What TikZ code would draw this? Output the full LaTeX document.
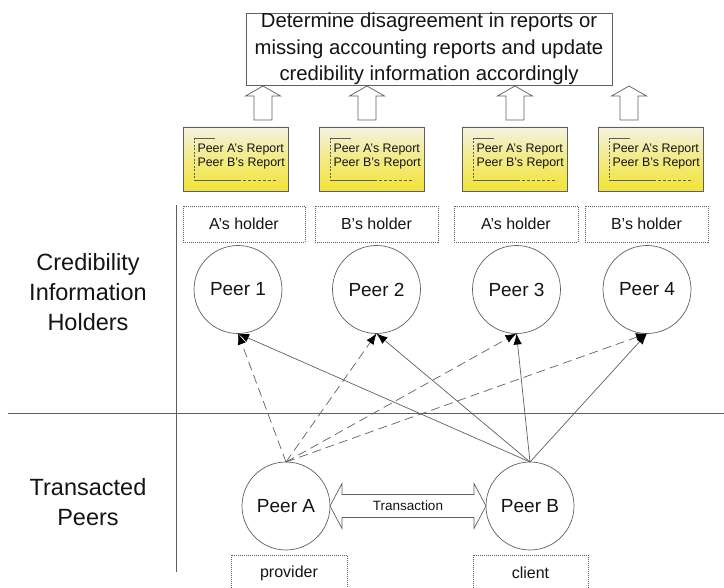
\documentclass[tikz,border=0pt]{standalone}
\usepackage{fontspec}
\setmainfont{Liberation Sans}
\usetikzlibrary{arrows.meta,calc}
\definecolor{ln}{RGB}{95,95,95}
\definecolor{ytop}{RGB}{244,242,228}
\definecolor{ybot}{RGB}{242,228,55}
\begin{document}
\begin{tikzpicture}[x=1pt,y=-1pt,
  every node/.style={inner sep=0pt, outer sep=0pt, text=black!92},
  topbox/.style={draw=ln, line width=0.7pt, minimum width=366pt, minimum height=72pt, align=center, font=\fontsize{20.3}{26.5}\selectfont},
  report/.style={draw=ln, line width=0.8pt, minimum width=105pt, minimum height=64pt, top color=ytop, bottom color=ybot, middle color=ybot!55!ytop},
  rtext/.style={align=left, font=\fontsize{12.4}{14}\selectfont},
  holder/.style={draw=ln, line width=0.6pt, dash pattern=on 1pt off 1pt, minimum height=36pt, font=\fontsize{16}{19}\selectfont},
  peer/.style={draw=ln, line width=0.7pt, circle, minimum size=88pt, font=\fontsize{19}{22}\selectfont},
  side/.style={align=center, font=\fontsize{23.5}{30}\selectfont},
  link/.style={draw=ln, line width=0.7pt, -{Latex[length=11pt,width=8.5pt,fill=black,color=black]}},
  dlink/.style={link, dash pattern=on 9pt off 5pt},
  blockarrow/.style={draw=ln, line width=0.7pt, fill=white}
]
\useasboundingbox (0,0) rectangle (724,588);

% top box
\node[topbox] (top) at (429,49) {Determine disagreement in reports or\\missing accounting reports and update\\credibility information accordingly};

% up block arrows
\foreach \cx in {263,367,515,629} {
  \draw[blockarrow] (\cx-9,120) -- (\cx-9,96) -- (\cx-17.5,96) -- (\cx,86) -- (\cx+17.5,96) -- (\cx+9,96) -- (\cx+9,120) -- cycle;
}

% report boxes
\node[report] (R1) at (235.5,159) {};
\node[report] (R2) at (371.5,159) {};
\node[report] (R3) at (514.5,159) {};
\node[report] (R4) at (650.5,159) {};
\foreach \r in {R1,R2,R3,R4} {
  \node[rtext, anchor=west] (\r t) at ($(\r.west)+(14.5,-2)$) {Peer A’s Report\\Peer B’s Report};
  \draw[ln, line width=0.6pt] ($(\r.north west)+(11,11)$) -- ++(21,0);
  \draw[ln, line width=0.6pt, dash pattern=on 2pt off 1.5pt] ($(\r.north west)+(11,11)$) -- ++(0,42);
  \draw[ln, line width=0.6pt] ($(\r.north west)+(11,53)$) -- ++(44,0);
  \draw[ln, line width=0.6pt, dash pattern=on 3pt off 2pt] ($(\r.north west)+(55,53)$) -- ++(40,0);
}

% holders
\node[holder, minimum width=122pt] (H1) at (244,224) {A’s holder};
\node[holder, minimum width=123pt] (H2) at (376.5,224) {B’s holder};
\node[holder, minimum width=124pt] (H3) at (516,224) {A’s holder};
\node[holder, minimum width=123pt] (H4) at (646.5,224) {B’s holder};

% peers
\node[peer] (P1) at (238,289.5) {Peer 1};
\node[peer] (P2) at (376.5,289.5) {Peer 2};
\node[peer] (P3) at (516.5,289.5) {Peer 3};
\node[peer] (P4) at (647,289.5) {Peer 4};
\node[peer] (A) at (286,506) {Peer A};
\node[peer] (B) at (530,506) {Peer B};

% role boxes
\node[holder, minimum width=116pt] (prov) at (289,573) {provider};
\node[holder, minimum width=115pt] (cli) at (530.5,573) {client};

% side labels
\node[side] (lab1) at (88,292) {Credibility\\Information\\Holders};
\node[side] (lab2) at (88,502) {Transacted\\Peers};

% separating lines
\draw[ln, line width=0.7pt] (176,205) -- (176,572);
\draw[ln, line width=0.7pt] (8,413) -- (724,413);

% connectors
\foreach \p in {P1,P2,P3,P4} {
  \draw[dlink] (A.north) -- (\p.south);
  \draw[link] (B.north) -- (\p.south);
}

% transaction double arrow
\draw[blockarrow] (A.east) -- ($(A.east)+(12,-22.5)$) -- ($(A.east)+(12,-11.5)$) -- ($(B.west)+(-12,-11.5)$) -- ($(B.west)+(-12,-22.5)$) -- (B.west) -- ($(B.west)+(-12,22.5)$) -- ($(B.west)+(-12,11.5)$) -- ($(A.east)+(12,11.5)$) -- ($(A.east)+(12,22.5)$) -- cycle;
\node[font=\fontsize{13.5}{16}\selectfont] (tr) at ($(A.east)!0.5!(B.west)$) {Transaction};
\end{tikzpicture}
\end{document}
